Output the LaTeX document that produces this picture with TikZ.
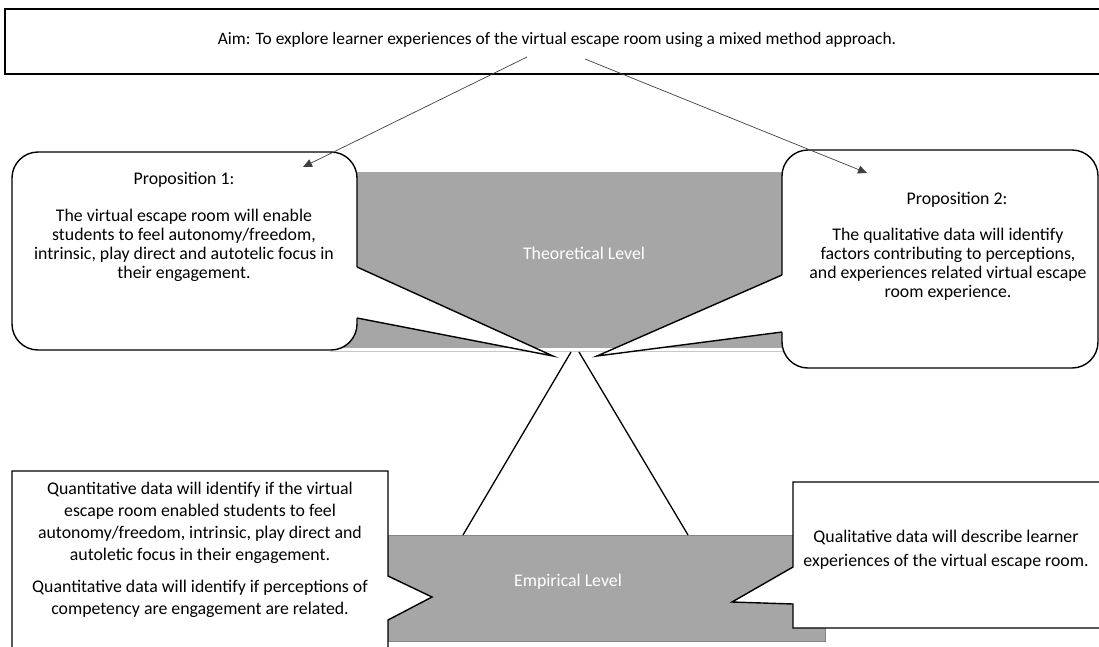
\documentclass[tikz,border=0pt]{standalone}
\usepackage{fontspec}
\setmainfont{Carlito}
\usetikzlibrary{arrows.meta}

\definecolor{levelgray}{RGB}{166,166,166}
\definecolor{edgegray}{RGB}{200,200,200}

\begin{document}
\begin{tikzpicture}[x=1pt,y=-1pt,
  txt/.style={align=center, font=\fontsize{17.8}{19}\selectfont},
  wide/.style={align=center, font=\fontsize{17.8}{22}\selectfont},
  bubble/.style={draw=black, fill=white, line width=1.4pt},
  level/.style={fill=levelgray, draw=levelgray!80!black, line width=0.8pt},
  link/.style={draw=black!75, line width=0.7pt, -{Triangle[length=9pt,width=8pt]}},
  leg/.style={draw=black, line width=1.3pt}]
\clip (0,0) rectangle (1099,646);
\fill[white] (0,0) rectangle (1099,646);

% aim
\draw[bubble] (5,9) rectangle (1110,74);
\node (aim) at (557,40) [txt, font=\fontsize{17.4}{19}\selectfont] {Aim: To explore learner experiences of the virtual escape room using a mixed method approach.};
\coordinate (aimL) at (527,57);
\coordinate (aimR) at (585,59);

% the two levels
\fill[levelgray] (330,172) rectangle (790,348);
\draw[edgegray, line width=0.8pt] (330,351) -- (790,351);
\node (theory) at (584,253) [txt, text=white] {Theoretical Level};
\path[level] (388,535) rectangle (825,641);
\node (empiric) at (568,582) [txt, text=white] {Empirical Level};

% proposition 1
\draw[bubble, rounded corners=26] (12,152) rectangle (357,350);
\fill[white] (350,267) -- (357,267) -- (553,356) -- (357,318) -- (350,318) -- cycle;
\draw[line width=1.4pt] (357,267) -- (553,356) -- (357,318);
\node (prop1) at (184,180) [txt] {Proposition 1:};
\node (prop1text) at (184,245) [txt] {The virtual escape room will enable\\ students to feel autonomy/freedom,\\ intrinsic, play direct and autotelic focus in\\ their engagement.};
\coordinate (prop1in) at (303,167);

% proposition 2
\draw[bubble, rounded corners=26] (782,150) rectangle (1098,368);
\fill[white] (789,275) -- (782,275) -- (597,356) -- (782,332) -- (789,332) -- cycle;
\draw[line width=1.4pt] (782,275) -- (597,356) -- (782,332);
\node (prop2) at (957,200) [txt] {Proposition 2:};
\node (prop2text) at (948,264) [txt] {The qualitative data will identify\\ factors contributing to perceptions,\\ and experiences related virtual escape\\ room experience.};
\coordinate (prop2in) at (867,173);

% empirical callouts
\draw[bubble] (12,660) -- (12,471) -- (388,471) -- (388,576) -- (432,597) -- (388,620) -- (388,660);
\node (quant1) at (200,523) [wide] {Quantitative data will identify if the virtual\\ escape room enabled students to feel\\ autonomy/freedom, intrinsic, play direct and\\ autoletic focus in their engagement.};
\node (quant2) at (200,599) [wide] {Quantitative data will identify if perceptions of\\ competency are engagement are related.};
\draw[bubble] (1110,482) -- (793,482) -- (793,567) -- (732,602) -- (793,604) -- (793,628) -- (1110,628);
\node (qual) at (946,550) [txt, font=\fontsize{17.8}{24}\selectfont] {Qualitative data will describe learner\\ experiences of the virtual escape room.};

% arrows and legs
\draw[link] (aimL) -- (prop1in);
\draw[link] (aimR) -- (prop2in);
\coordinate (apexL) at (571,352);
\coordinate (apexR) at (579,352);
\coordinate (footL) at (463,535);
\coordinate (footR) at (688,535);
\draw[leg] (apexL) -- (footL);
\draw[leg] (apexR) -- (footR);
\end{tikzpicture}
\end{document}
